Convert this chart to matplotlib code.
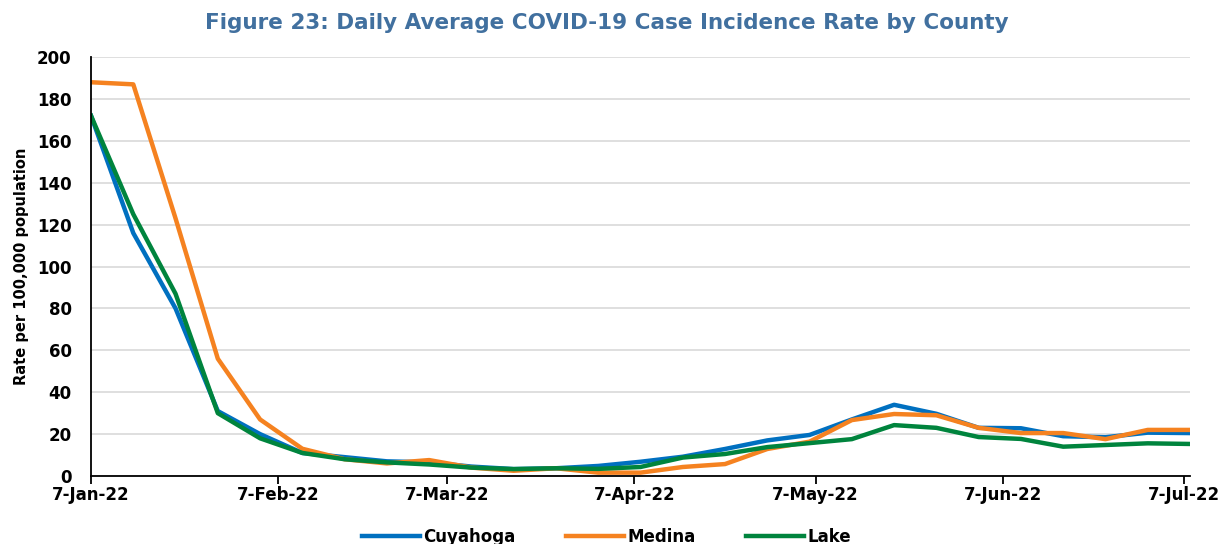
import matplotlib.pyplot as plt
import matplotlib.dates as mdates
import pandas as pd
import numpy as np

c_cuy = "#0070C0"
c_med = "#F58220"
c_lake = "#00843D"

dates = pd.date_range("2022-01-07", "2022-07-08", freq="7D")

cuyahoga = [172, 116, 80, 31, 20, 11, 9, 7, 6.5, 4.5, 3.3, 3.7, 4.8, 6.8, 9.2, 12.9,
            17.0, 19.6, 27, 34, 29.7, 23, 22.8, 19, 18.5, 20.7, 20.5]
medina = [188, 187, 123, 56, 27, 13, 8, 6, 7.6, 4, 2.5, 3.7, 1.6, 1.6, 4.3, 5.7,
          12.9, 16.4, 26.7, 29.6, 29, 23, 20.5, 20.5, 17.6, 22, 22]
lake = [172, 125, 87, 30, 18, 11, 8, 6.5, 5.5, 4, 3.3, 3.7, 3.4, 4.3, 8.8, 10.5,
        13.8, 15.7, 17.6, 24.3, 23, 18.6, 17.7, 14, 14.8, 15.6, 15.3]

fam = ['DejaVu Sans']

fig = plt.figure(figsize=(12.2, 5.44), dpi=100)
ax = fig.add_axes([0.0746, 0.125, 0.9008, 0.77])

ax.plot(dates, cuyahoga, color=c_cuy, lw=3.2, label='Cuyahoga', solid_joinstyle='round')
ax.plot(dates, medina, color=c_med, lw=3.2, label='Medina', solid_joinstyle='round')
ax.plot(dates, lake, color=c_lake, lw=3.2, label='Lake', solid_joinstyle='round')

ax.set_ylim(0, 200)
ax.set_yticks(np.arange(0, 201, 20))
ax.set_xlim(pd.Timestamp("2022-01-07"), pd.Timestamp("2022-07-08"))
ax.xaxis.set_major_locator(mdates.MonthLocator(bymonthday=7))
ax.xaxis.set_major_formatter(mdates.DateFormatter('%-d-%b-%y'))

ax.grid(axis='y', color='#D9D9D9', lw=1.2)
ax.set_axisbelow(True)
for s in ['top', 'right']:
    ax.spines[s].set_visible(False)
ax.spines['left'].set_linewidth(1.3)
ax.spines['bottom'].set_linewidth(1.3)
ax.tick_params(axis='y', length=0, pad=14)
ax.tick_params(axis='x', length=6, width=1.3, direction='out', pad=1)

for lbl in ax.get_xticklabels() + ax.get_yticklabels():
    lbl.set_fontfamily(fam)
    lbl.set_fontweight('bold')
    lbl.set_fontsize(12)

ax.set_ylabel('Rate per 100,000 population', fontsize=10.5, labelpad=6,
              family=fam, weight='bold')

fig.suptitle('Figure 23: Daily Average COVID-19 Case Incidence Rate by County',
             x=0.497, y=0.976, fontsize=15.5, color='#41709F', family=fam, weight='bold')

leg = fig.legend(loc='center', bbox_to_anchor=(0.497, 0.013), ncol=3, frameon=False,
                 prop={'family': fam, 'weight': 'bold', 'size': 12},
                 handlelength=3.5, handletextpad=0.2, columnspacing=3)

fig.savefig('out.png', dpi=100)
